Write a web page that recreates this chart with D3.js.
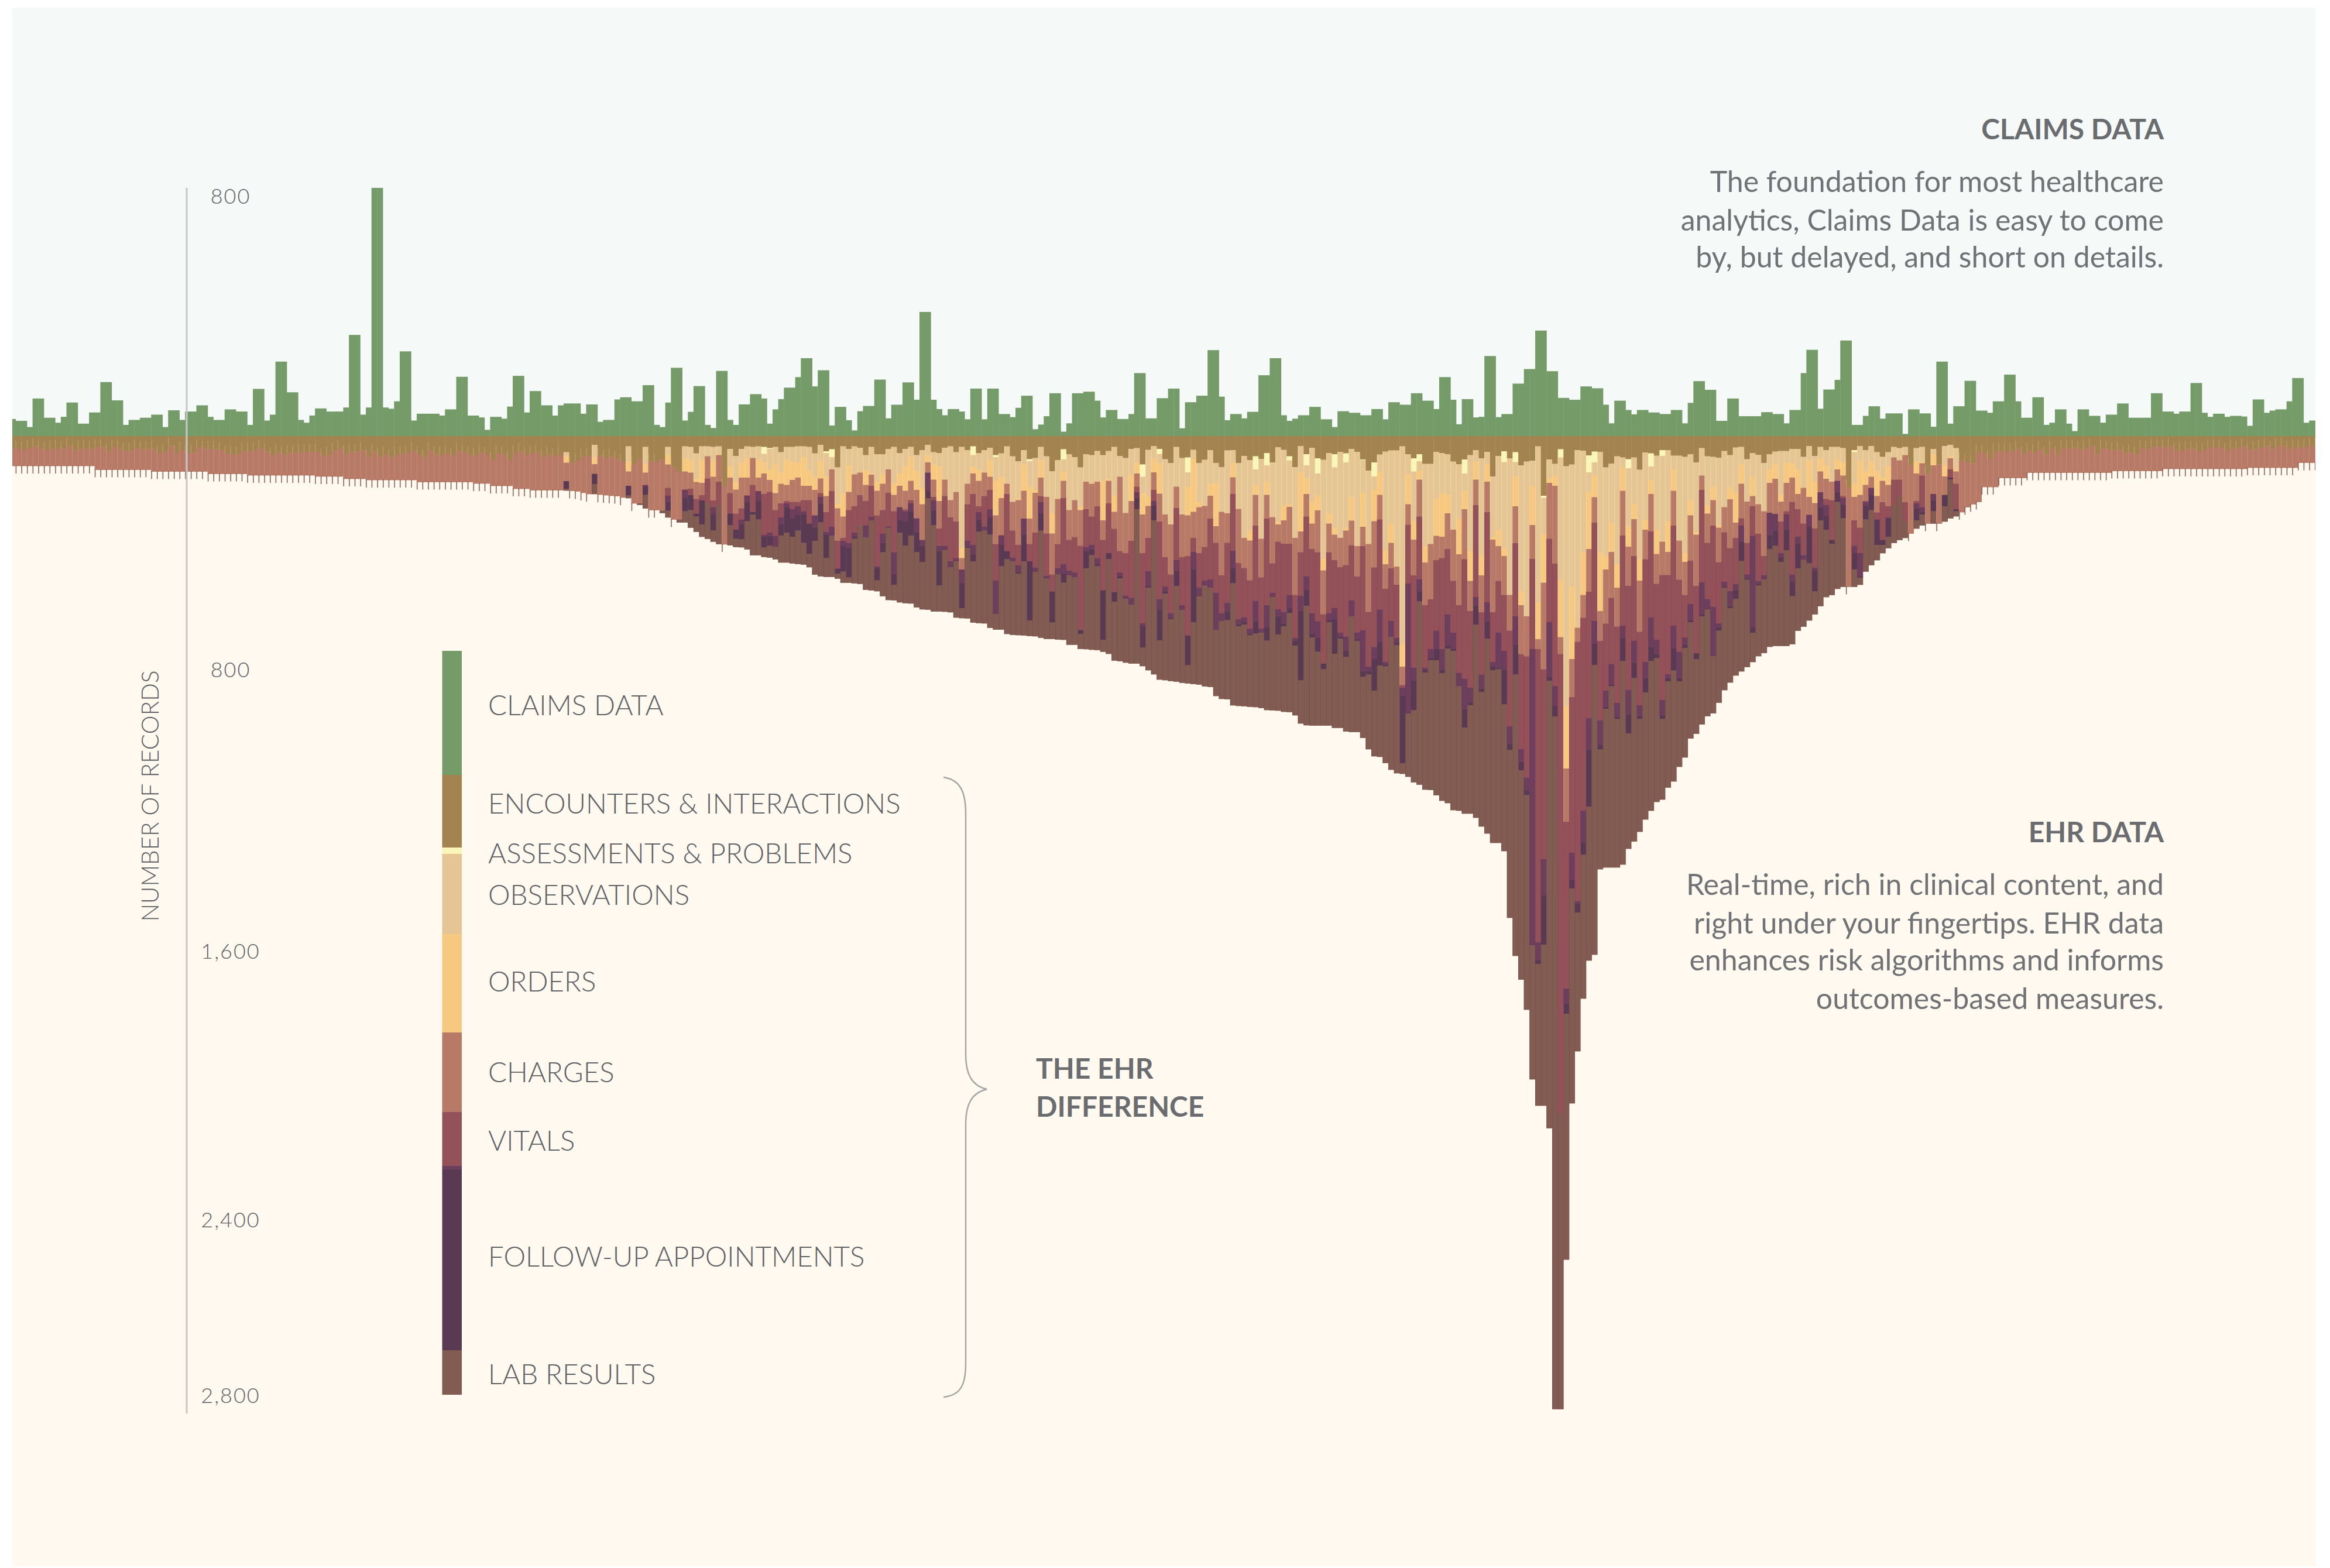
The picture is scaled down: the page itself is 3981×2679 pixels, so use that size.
<!DOCTYPE html>
<html>
<head>
<meta charset="utf-8">
<script src="https://cdn.jsdelivr.net/npm/d3@7"></script>
<style>
  html, body { margin: 0; background: #fff; }
  text { font-family: Lato, sans-serif; font-weight: 300; fill: #5f6165; }
</style>
</head>
<body>
<svg></svg>
<script>
// claims records per bar, drawn upward
const claims = [
  55,49,49,29,121,121,59,59,43,62,108,108,40,40,76,76,174,174,115,115,
  36,52,52,59,59,69,69,29,83,83,52,79,79,99,99,62,52,52,86,86,
  79,79,36,152,152,50,69,240,240,141,141,52,43,66,89,89,79,79,79,92,
  326,326,69,92,800,800,92,88,112,273,273,50,72,72,72,72,66,86,86,191,
  191,66,66,60,20,62,62,56,95,194,194,76,145,145,99,99,66,99,105,105,
  105,72,102,102,46,52,52,118,125,125,112,112,164,164,36,29,108,220,220,50,
  78,161,161,36,26,210,210,52,36,102,102,135,135,121,40,86,119,156,156,190,
  251,251,160,212,212,34,94,94,51,18,80,97,97,182,182,57,101,101,173,173,
  117,400,400,117,87,67,87,87,79,54,153,153,54,153,153,71,71,61,91,130,
  130,22,37,64,138,138,14,41,138,138,143,143,114,60,84,84,55,55,71,203,
  203,57,57,122,122,153,153,25,109,109,130,130,277,277,127,51,71,71,57,78,
  78,196,196,251,251,67,49,56,67,67,94,94,54,54,29,80,80,75,75,67,
  67,87,87,54,109,109,101,101,138,138,114,114,87,190,190,117,38,119,119,60,
  62,258,258,61,71,71,169,169,216,216,340,340,209,209,123,123,117,117,160,160,
  154,154,101,41,114,114,84,70,84,84,76,76,71,71,84,84,41,107,177,177,
  149,149,49,49,121,121,64,64,64,64,77,77,71,71,41,84,84,203,278,278,
  88,150,150,181,308,308,36,36,65,96,96,56,73,73,73,7,86,86,73,73,
  30,240,240,40,96,96,178,178,82,82,75,112,112,198,198,112,59,59,125,125,
  36,43,86,86,40,16,86,86,65,65,43,69,69,105,105,59,59,59,59,138,
  138,79,79,72,79,79,171,171,75,62,72,72,62,65,65,63,33,118,118,75,
  82,86,86,112,187,187,43,50,50
];

// the EHR layers hang down from the baseline: each array gives the depth in
// records where that layer ends, so a layer is drawn from the previous depth
const encountersEnd = [
  42,44,48,40,35,45,48,45,42,45,
  35,51,43,43,45,38,37,55,38,45,
  51,51,42,45,45,45,60,55,35,58,
  48,60,57,38,45,45,45,48,60,63,
  63,51,51,51,42,55,66,57,63,57,
  60,55,55,54,54,69,64,51,42,60,
  55,55,49,73,55,71,64,73,64,63,
  58,51,64,73,51,63,64,60,69,51,
  57,63,69,57,64,82,60,63,82,60,
  51,64,60,57,73,63,69,64,
  55,93,84,71,69,30,67,76,71,79,
  87,35,97,79,37,87,90,79,37,107,
  124,35,37,59,35,35,37,35,172,44,
  68,44,35,37,35,37,41,37,55,37,
  37,35,35,37,59,30,52,45,107,35,
  44,35,40,65,37,62,62,44,37,58,
  44,37,65,48,30,55,58,40,35,55,
  37,48,35,58,48,40,65,59,35,69,
  86,48,79,75,37,69,120,82,45,62,
  72,107,62,65,51,65,51,37,68,75,
  44,41,97,47,34,44,79,92,37,75,
  73,47,92,81,48,92,106,49,48,92,
  68,82,69,78,58,90,38,47,69,106,
  34,62,40,76,81,58,62,54,59,44,
  54,80,118,90,63,53,49,49,35,62,
  76,62,95,95,54,58,62,87,96,80,
  65,48,76,54,138,68,52,76,55,100,
  87,84,35,204,80,95,45,103,97,48,
  50,66,53,54,107,94,69,73,79,73,
  115,56,59,67,48,48,67,67,71,62,
  90,41,69,71,74,51,65,39,37,79,
  58,64,92,62,53,51,51,44,44,71,
  34,68,37,48,37,37,41,176,48,34,
  48,34,55,71,55,37,41,37,101,41,
  37,128,44,97,34,30,41,
  83,90,93,55,59,
  76,54,51,54,51,45,63,51,56,45,
  63,44,63,42,45,39,45,45,35,63,
  43,45,49,47,59,56,63,42,45,37,
  37,39,37,49,52,45,45,52,49,38,
  41,38,52,41,45,35,49,45,41,35,
  45,35,35,45,38,41,38,35,35
];

const chargesEnd = [
  102,102,102,102,102,102,102,102,102,102,
  102,102,102,102,102,115,115,115,115,115,
  115,115,115,115,115,121,121,121,121,121,
  121,121,121,121,121,129,129,129,129,129,
  129,129,134,134,134,134,134,134,134,134,
  134,134,134,134,138,138,138,138,138,146,
  146,146,146,150,150,150,150,150,150,150,
  150,150,157,157,157,157,157,157,157,157,
  157,157,162,162,162,170,170,170,170,180,
  180,180,185,185,185,185,185,185,
  154,187,189,194,198,129,200,202,204,205,
  210,170,230,230,167,253,253,255,177,285,
  285,183,180,215,202,145,220,156,370,195,
  265,247,203,167,188,198,191,253,230,222,
  225,225,219,219,271,195,260,188,358,348,
  253,240,202,222,170,271,253,194,257,243,
  251,219,281,355,125,208,316,205,278,292,
  456,233,198,240,205,184,369,339,198,323,
  372,282,369,330,205,333,473,369,212,355,
  345,375,250,275,240,355,230,317,393,400,
  358,173,400,348,184,292,414,473,246,414,
  410,348,400,379,282,365,476,365,198,434,
  451,493,306,483,282,435,361,368,368,543,
  397,275,386,397,609,397,424,448,441,373,
  480,376,601,449,285,522,452,508,851,303,
  476,275,578,558,424,417,386,495,578,421,
  598,236,602,260,602,495,543,665,366,745,
  753,420,728,797,351,436,745,1318,892,703,
  621,532,296,700,641,553,651,340,512,410,
  669,421,326,505,475,475,306,491,543,426,
  512,184,365,306,431,329,383,348,281,365,
  240,334,410,262,266,292,257,225,250,299,
  269,316,192,215,219,153,205,515,288,313,
  222,177,261,226,240,149,149,226,333,222,
  135,299,198,299,201,114,163,
  260,243,233,225,174,
  174,174,143,143,143,143,143,125,125,125,
  125,125,125,125,125,125,125,125,125,125,
  125,125,119,119,119,119,119,119,119,119,
  119,112,112,112,112,112,112,112,112,112,
  112,112,112,112,112,112,108,108,108,108,
  108,108,108,108,108,91,91,91,91
];

// the remaining layers only exist from bar ehrStart onwards
const ehrStart = 98;
const assessmentsEnd = [
  55,93,84,71,69,30,67,76,71,79,
  87,35,97,79,37,87,90,79,37,107,
  124,35,37,59,35,35,37,35,172,44,
  68,44,35,37,35,61,44,37,55,37,
  37,35,35,37,59,30,58,72,107,35,
  44,35,40,65,37,62,62,44,37,58,
  44,37,65,48,30,55,58,40,35,55,
  37,48,65,58,48,40,72,59,35,69,
  86,48,86,75,37,69,120,82,80,62,
  72,107,62,65,51,65,51,37,68,75,
  44,41,139,47,34,61,79,92,37,75,
  124,47,92,81,48,92,106,49,48,92,
  68,82,114,78,100,90,38,47,83,106,
  34,100,40,128,81,58,107,54,90,44,
  54,82,118,138,63,53,49,49,35,62,
  121,86,95,95,54,58,62,87,96,128,
  65,48,76,54,138,68,89,76,89,100,
  87,84,35,211,80,95,73,103,97,48,
  50,124,90,54,107,94,69,73,110,73,
  115,56,104,67,68,48,67,67,71,62,
  90,41,69,71,74,51,65,39,37,79,
  58,64,92,62,53,51,51,44,44,71,
  34,68,37,48,37,37,41,176,55,34,
  48,34,55,71,55,37,41,37,101,41,
  37,128,44,97,34,30,41
];
const observationsEnd = [
  69,93,84,71,69,73,67,76,71,79,
  87,87,97,79,97,87,90,79,65,107,
  124,75,83,147,80,69,83,63,172,103,
  156,90,75,75,80,90,115,97,125,80,
  87,90,72,119,139,83,139,114,232,195,
  100,131,125,115,128,157,131,114,163,128,
  103,70,118,177,65,97,103,149,219,191,
  382,163,104,115,125,80,152,139,163,225,
  212,97,174,184,83,208,264,215,121,253,
  219,243,156,160,156,153,147,204,139,263,
  132,90,194,207,76,93,268,302,173,268,
  174,78,226,239,163,160,259,264,90,249,
  348,323,167,351,155,277,295,239,233,348,
  122,143,226,202,418,264,313,348,313,209,
  376,194,369,184,120,390,299,444,709,131,
  291,118,378,369,215,194,201,320,282,187,
  393,87,409,97,347,320,382,543,138,530,
  616,170,568,335,146,134,491,922,514,655,
  398,191,135,396,410,298,439,108,309,233,
  420,286,149,320,361,292,114,355,400,219,
  328,135,237,173,306,243,175,194,97,224,
  139,233,257,114,94,201,90,93,115,177,
  83,156,76,100,156,80,90,176,163,83,
  121,87,118,142,103,73,83,63,101,87,
  87,128,62,97,100,69,114
];
const ordersEnd = [
  91,93,84,71,69,96,67,76,71,79,
  87,121,97,79,125,87,90,79,97,107,
  124,121,125,157,160,69,139,65,172,142,
  183,142,142,75,142,128,150,195,163,167,
  150,142,170,170,184,145,205,114,247,275,
  191,131,125,167,132,187,163,114,201,170,
  187,153,184,233,90,149,222,149,219,191,
  417,163,128,153,125,139,271,212,163,225,
  219,187,282,194,142,208,333,215,153,253,
  219,253,156,163,156,288,153,259,139,263,
  222,128,268,239,124,197,268,302,173,268,
  271,259,243,239,204,308,259,264,141,249,
  348,357,201,351,201,277,302,288,242,348,
  326,198,299,254,459,299,337,348,323,289,
  376,310,369,291,201,438,365,446,788,233,
  354,149,432,369,341,344,264,320,404,250,
  495,149,476,156,354,376,410,543,240,578,
  616,304,694,501,160,170,687,1136,762,655,
  543,386,209,598,456,396,518,187,378,284,
  494,320,198,403,361,396,187,357,430,271,
  337,135,265,219,313,243,216,296,163,224,
  205,233,257,160,146,224,160,142,198,177,
  208,229,121,146,156,114,135,176,208,201,
  167,139,205,153,167,73,83,65,101,128,
  93,128,100,97,138,76,121
];
const vitalsEnd = [
  154,187,189,194,198,129,200,202,204,205,
  210,170,230,230,167,253,253,255,204,285,
  285,183,202,265,220,228,243,236,370,265,
  320,285,203,260,188,338,330,341,278,230,
  250,240,257,299,271,208,327,310,453,358,
  365,330,305,305,275,445,333,309,397,243,
  257,229,281,355,125,219,375,375,428,417,
  456,358,372,260,310,250,494,339,393,415,
  441,282,428,449,225,477,531,452,438,460,
  466,663,380,372,417,527,400,533,466,545,
  553,192,640,462,222,557,514,605,424,578,
  681,396,518,494,490,536,605,570,392,626,
  619,658,563,658,578,536,592,601,543,690,
  546,479,605,633,778,605,588,672,685,561,
  671,663,788,721,593,772,631,690,860,504,
  791,490,791,728,665,728,609,672,809,829,
  860,550,816,568,772,671,734,992,616,1070,
  1167,728,1730,1446,636,854,2314,1888,1424,1589,
  1280,964,632,972,870,779,912,647,867,699,
  920,772,619,696,902,814,648,737,688,574,
  742,500,557,583,640,498,530,505,306,473,
  341,495,475,262,266,400,268,473,344,407,
  269,449,192,236,355,153,212,515,375,400,
  225,177,285,355,278,236,208,292,333,230,
  243,299,198,299,201,142,250
];
// follow-ups overlap the vitals layer first, which reads as a lighter purple
const overlapEnd = [
  154,187,189,194,198,129,200,202,204,205,
  210,170,230,230,171,253,253,255,225,285,
  285,212,202,265,220,228,268,236,370,265,
  320,302,225,260,222,344,341,379,302,243,
  281,270,267,299,313,232,338,340,453,375,
  382,344,305,347,287,452,365,309,472,288,
  291,257,330,375,187,253,393,390,448,428,
  504,377,403,288,323,278,608,372,393,428,
  463,337,428,465,264,487,531,471,470,476,
  483,663,393,387,438,527,400,533,477,556,
  575,212,650,512,238,594,532,624,462,594,
  684,455,548,511,518,663,632,599,451,643,
  636,675,633,672,654,550,615,641,588,699,
  598,525,675,690,778,629,626,685,734,616,
  693,803,803,762,703,782,687,706,888,946,
  835,532,800,757,728,800,716,728,852,933,
  909,580,863,633,788,791,800,1052,714,1113,
  1212,1740,1792,1570,823,922,2314,1940,1516,1600,
  1390,1071,710,1056,925,850,960,689,951,775,
  957,827,721,745,954,828,726,828,714,630,
  742,610,590,752,653,513,581,525,362,485,
  654,505,490,340,323,413,320,497,368,423,
  310,460,243,274,355,191,236,515,400,480,
  240,201,285,355,281,236,208,292,333,247,
  260,299,219,299,201,142,250
];
const followUpEnd = [
  180,187,189,194,198,164,200,202,204,205,
  210,203,230,230,201,253,253,255,255,285,
  285,257,253,275,302,228,323,236,370,305,
  351,353,291,268,285,381,375,379,340,330,
  344,323,365,403,358,295,417,340,470,463,
  483,351,305,347,288,493,397,313,508,330,
  375,340,397,431,212,305,511,390,448,428,
  588,382,428,327,323,337,608,445,421,428,
  470,428,630,465,323,487,637,473,501,476,
  483,676,452,407,445,696,420,566,487,556,
  577,250,723,518,288,698,539,626,512,594,
  783,636,548,511,518,663,632,629,503,650,
  644,681,675,672,699,550,678,650,605,716,
  835,580,689,737,797,636,744,692,755,616,
  700,823,815,870,784,787,687,715,1118,948,
  937,565,808,766,766,811,726,734,854,996,
  920,644,875,693,800,797,917,1073,815,1143,
  1227,1740,1804,1738,836,958,2314,1974,1546,1628,
  1430,1267,782,1071,932,855,967,769,1016,827,
  967,876,769,759,967,838,801,838,724,636,
  762,616,592,752,665,518,588,557,427,491,
  672,511,490,386,375,430,390,547,452,423,
  435,531,288,320,368,225,281,515,456,484,
  285,253,372,372,344,236,208,292,333,288,
  268,299,257,299,240,148,257
];
const labEnd = [
  186,187,189,194,198,198,200,202,204,205,
  210,212,230,235,247,253,253,263,278,285,
  295,295,313,327,344,351,361,369,370,373,
  379,380,387,407,407,413,415,421,432,432,
  435,437,439,448,473,479,481,481,487,501,
  501,503,505,525,527,530,547,560,561,568,
  571,572,585,592,593,599,599,600,602,620,
  622,623,637,639,640,655,661,661,676,679,
  680,681,683,684,689,693,693,695,696,713,
  713,727,728,730,731,737,744,767,769,774,
  777,777,786,800,814,832,834,837,839,843,
  845,847,849,855,857,888,898,899,920,922,
  923,925,926,929,936,937,938,942,943,954,
  982,988,989,989,989,989,997,997,1009,1011,
  1011,1031,1070,1094,1096,1117,1140,1152,1154,1164,
  1183,1191,1208,1209,1227,1246,1254,1278,1280,1290,
  1290,1304,1334,1358,1390,1390,1418,1646,1776,1857,
  1960,2198,2288,2288,2365,3325,3325,2814,2280,2102,
  1922,1792,1772,1480,1474,1474,1474,1464,1410,1385,
  1352,1310,1280,1250,1242,1201,1180,1130,1098,1033,
  1017,985,957,947,911,868,842,818,804,789,
  772,752,741,720,717,717,717,711,665,651,
  630,609,581,550,543,522,515,515,515,508,
  463,441,424,400,383,365,355,348,333,316,
  305,299,299,299,292,281,274
];

const legendLabels = ["CLAIMS DATA", "ENCOUNTERS & INTERACTIONS", "ASSESSMENTS & PROBLEMS", "OBSERVATIONS", "ORDERS", "CHARGES", "VITALS", "FOLLOW-UP APPOINTMENTS", "LAB RESULTS"];
const legendTotals = [424, 248, 22, 274, 336, 272, 184, 12, 618, 152];
const upTicks = [800];
const downTicks = [800, 1600, 2400, 2800];
const claimsCopy = ["The foundation for most healthcare", "analytics, Claims Data is easy to come", "by, but delayed, and short on details."];
const ehrCopy = ["Real-time, rich in clinical content, and", "right under your fingertips. EHR data", "enhances risk algorithms and informs", "outcomes-based measures."];

const svgWidth = 3981;
const svgHeight = 2679;
const svg = d3.select("svg").attr("width", svgWidth).attr("height", svgHeight).style("display", "block");

const left = 21, right = 3956, top_ = 13, bottom = 2676;
const zero = 745;

const color = {
  claims: "#759b69", encounters: "#a38450", assessments: "#faf6ba", observations: "#e6c595",
  orders: "#f7c87f", charges: "#b87a66", vitals: "#945159", overlap: "#6e3f5d",
  followUp: "#5a3a52", lab: "#825c52"
};

svg.append("rect").attr("x", left).attr("y", top_).attr("width", right - left).attr("height", zero - top_).attr("fill", "#f5f9f8");
svg.append("rect").attr("x", left).attr("y", zero).attr("width", right - left).attr("height", bottom - zero).attr("fill", "#fff9ef");

svg.append("clipPath").attr("id", "panel").append("rect")
  .attr("x", left).attr("y", top_).attr("width", right - left).attr("height", bottom - top_);

const barCount = claims.length;
const x = d3.scaleBand().domain(d3.range(barCount)).range([17, 17 + barCount * 9.652]);
const yUp = d3.scaleLinear().domain([0, 800]).range([zero, 321]);
const yDown = d3.scaleLinear().domain([0, 800]).range([zero, 1145]);
// the printed tick labels are not evenly spaced, so they get their own scale
const yTicks = d3.scaleLinear().domain([0, 800, 1600, 2400, 2800]).range([zero, 1144, 1625, 2084, 2384]);

const bars = svg.append("g").attr("clip-path", "url(#panel)");

bars.selectAll(".claim")
  .data(claims)
  .join("rect")
  .attr("class", "claim")
  .attr("x", (d, i) => x(i))
  .attr("y", (d) => yUp(d))
  .attr("width", x.bandwidth() + 0.4)
  .attr("height", (d) => yUp(0) - yUp(d))
  .attr("fill", color.claims);

// one segment per layer per bar
const layerOrder = [
  ["assessments", assessmentsEnd], ["observations", observationsEnd], ["orders", ordersEnd]
];
const lowerOrder = [
  ["vitals", vitalsEnd], ["overlap", overlapEnd], ["followUp", followUpEnd], ["lab", labEnd]
];
const segments = [];
const plainBars = [];
d3.range(barCount).forEach((i) => {
  const m = i - ehrStart;
  const hasEhr = m >= 0 && m < labEnd.length;
  const stack = [["encounters", encountersEnd[i]]];
  if (hasEhr) layerOrder.forEach(([k, a]) => stack.push([k, a[m]]));
  stack.push(["charges", chargesEnd[i]]);
  if (hasEhr) lowerOrder.forEach(([k, a]) => stack.push([k, a[m]]));
  let prev = 0;
  stack.forEach(([key, end]) => {
    if (end > prev) segments.push({i, key, from: prev, to: end});
    prev = Math.max(prev, end);
  });
  if (!hasEhr || labEnd[m] === chargesEnd[i]) plainBars.push({i, enc: encountersEnd[i], end: prev});
});

bars.selectAll(".seg")
  .data(segments)
  .join("rect")
  .attr("class", "seg")
  .attr("x", (d) => x(d.i))
  .attr("y", (d) => yDown(d.from))
  .attr("width", x.bandwidth() + 0.4)
  .attr("height", (d) => yDown(d.to) - yDown(d.from) + 0.4)
  .attr("fill", (d) => color[d.key]);

// hairlines between neighbouring bars
const hairColor = {observations: "#eed4aa", orders: "#f9d292", charges: "#c28a75", vitals: "#8c4d55", overlap: "#693c59", lab: "#775449"};
bars.selectAll(".hair")
  .data(segments.filter((d) => hairColor[d.key]))
  .join("rect")
  .attr("class", "hair")
  .attr("x", (d) => x(d.i))
  .attr("y", (d) => yDown(d.from))
  .attr("width", 1)
  .attr("height", (d) => yDown(d.to) - yDown(d.from))
  .attr("fill", (d) => hairColor[d.key]);

// bars with no lab block show only a short whisker under them
bars.selectAll(".whisker")
  .data(plainBars)
  .join("rect")
  .attr("class", "whisker")
  .attr("x", (d) => x(d.i))
  .attr("y", (d) => yDown(d.end) - 1)
  .attr("width", 1.5)
  .attr("height", yDown(28) - yDown(0))
  .attr("fill", color.lab);
bars.selectAll(".whiskerTop")
  .data(plainBars)
  .join("rect")
  .attr("class", "whiskerTop")
  .attr("x", (d) => x(d.i))
  .attr("y", (d) => yDown(d.enc - 28))
  .attr("width", 1)
  .attr("height", yDown(28) - yDown(0))
  .attr("fill", "#c2a273");

// axis
svg.append("line")
  .attr("x1", 319).attr("x2", 319).attr("y1", 321).attr("y2", 2415)
  .attr("stroke", "#c6c7c6").attr("stroke-width", 3);

const tickLabels = (sel) => {
  sel.select(".domain").remove();
  sel.selectAll(".tick line").remove();
  sel.selectAll("text")
    .attr("x", 0).attr("dy", "0.35em")
    .style("text-anchor", "middle")
    .style("font-family", "Lato, sans-serif")
    .style("font-size", "36px")
    .style("font-weight", 300)
    .style("letter-spacing", "2px");
};
svg.append("g").attr("transform", "translate(394,14)")
  .call(d3.axisRight(yUp).tickValues(upTicks).tickFormat(d3.format(",")))
  .call(tickLabels);
svg.append("g").attr("transform", "translate(394,0)")
  .call(d3.axisRight(yTicks).tickValues(downTicks).tickFormat(d3.format(",")))
  .call(tickLabels);

svg.append("text")
  .attr("transform", "translate(256,1360) rotate(-90)")
  .attr("text-anchor", "middle").attr("dy", "0.35em")
  .attr("font-size", 42)
  .attr("textLength", 429).attr("lengthAdjust", "spacingAndGlyphs")
  .text("NUMBER OF RECORDS");

// legend bar
const legendKeys = ["claims", "encounters", "assessments", "observations", "orders", "charges", "vitals", "overlap", "followUp", "lab"];
const legendY = d3.scaleLinear().domain([0, d3.sum(legendTotals)]).range([1112, 2383]);
const legendTops = d3.cumsum(legendTotals);
svg.append("g").selectAll("rect")
  .data(legendTotals)
  .join("rect")
  .attr("x", 755.5)
  .attr("y", (d, i) => legendY(legendTops[i] - d))
  .attr("width", 33.5)
  .attr("height", (d) => legendY(d) - legendY(0))
  .attr("fill", (d, i) => color[legendKeys[i]]);

const legendTextY = [1205, 1373, 1458, 1529, 1677, 1832, 1949, 2147, 2348];
svg.append("g").selectAll("text")
  .data(legendLabels)
  .join("text")
  .attr("x", 834)
  .attr("y", (d, i) => legendTextY[i])
  .attr("dy", "0.35em")
  .attr("font-size", 47.5)
  .text((d) => d);

// brace
svg.append("path")
  .attr("d", "M1612,1328 C1640,1332 1650,1352 1650,1390 L1650,1800 C1650,1835 1660,1855 1686,1861 C1660,1867 1650,1887 1650,1922 L1650,2330 C1650,2368 1640,2384 1612,2387")
  .attr("fill", "none").attr("stroke", "#a6a6a6").attr("stroke-width", 2.5);

const rightText = (lines, ys) => svg.append("g").selectAll("text")
  .data(lines)
  .join("text")
  .attr("x", 3697)
  .attr("y", (d, i) => ys[i])
  .attr("dy", "0.35em")
  .attr("text-anchor", "end")
  .attr("font-size", 50)
  .style("font-weight", 400)
  .style("fill", "#707276")
  .text((d) => d);

const heading = (txt, xPos, yPos, anchor) => svg.append("text")
  .attr("x", xPos).attr("y", yPos).attr("dy", "0.35em")
  .attr("text-anchor", anchor)
  .attr("font-size", 48)
  .style("font-weight", 700)
  .style("fill", "#6a6c70")
  .text(txt);

heading("CLAIMS DATA", 3697, 221, "end");
rightText(claimsCopy, [310, 376, 439]);
heading("EHR DATA", 3697, 1422, "end");
rightText(ehrCopy, [1511, 1577, 1640, 1706]);
heading("THE EHR", 1770, 1826, "start");
heading("DIFFERENCE", 1770, 1891, "start");
</script>
</body>
</html>
